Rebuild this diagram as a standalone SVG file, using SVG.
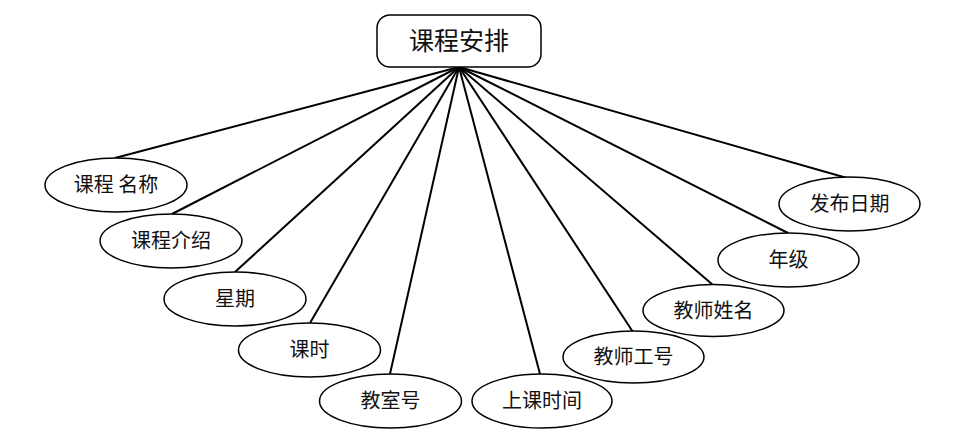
<svg xmlns="http://www.w3.org/2000/svg" width="966" height="440" viewBox="0 0 966 440">
<style>
.n ellipse{fill:#fff;stroke:#000;stroke-width:1.5}
.n text{font-family:"Noto Sans CJK SC","Noto Sans",sans-serif;font-size:20px;fill:#111;text-anchor:middle}
#conn line{stroke:#000;stroke-width:2}
</style>
<rect width="966" height="440" fill="#fff"/>
<g id="conn">
<line x1="459" y1="67" x2="115" y2="158"/>
<line x1="459" y1="67" x2="172" y2="214"/>
<line x1="459" y1="67" x2="235" y2="272"/>
<line x1="459" y1="67" x2="310" y2="323"/>
<line x1="459" y1="67" x2="390" y2="374"/>
<line x1="459" y1="67" x2="540" y2="374"/>
<line x1="459" y1="67" x2="633" y2="332"/>
<line x1="459" y1="67" x2="713" y2="285"/>
<line x1="459" y1="67" x2="788" y2="233"/>
<line x1="459" y1="67" x2="847" y2="178"/>
</g>
<g id="root" class="n">
<rect x="377" y="15" width="164" height="52" rx="13" ry="13" fill="#fff" stroke="#000" stroke-width="1.5"/>
<text x="459" y="50" style="font-size:25px">课程安排</text>
</g>
<g id="n1" class="n"><ellipse cx="116" cy="185" rx="71" ry="27"/><text x="116" y="192">课程 名称</text></g>
<g id="n2" class="n"><ellipse cx="171" cy="241" rx="71" ry="27"/><text x="171" y="248">课程介绍</text></g>
<g id="n3" class="n"><ellipse cx="235" cy="299" rx="71" ry="27"/><text x="235" y="306">星期</text></g>
<g id="n4" class="n"><ellipse cx="309.5" cy="350" rx="71" ry="27"/><text x="309.5" y="357">课时</text></g>
<g id="n5" class="n"><ellipse cx="390.5" cy="401" rx="71" ry="27"/><text x="390.5" y="408">教室号</text></g>
<g id="n6" class="n"><ellipse cx="542" cy="401" rx="70" ry="27"/><text x="542" y="408">上课时间</text></g>
<g id="n7" class="n"><ellipse cx="633.5" cy="357" rx="70.5" ry="26"/><text x="633.5" y="364">教师工号</text></g>
<g id="n8" class="n"><ellipse cx="713.5" cy="310.5" rx="70.5" ry="26"/><text x="713.5" y="317.5">教师姓名</text></g>
<g id="n9" class="n"><ellipse cx="788.5" cy="260" rx="70.5" ry="27"/><text x="788.5" y="267">年级</text></g>
<g id="n10" class="n"><ellipse cx="849.5" cy="204" rx="70.5" ry="27"/><text x="849.5" y="211">发布日期</text></g>
</svg>
